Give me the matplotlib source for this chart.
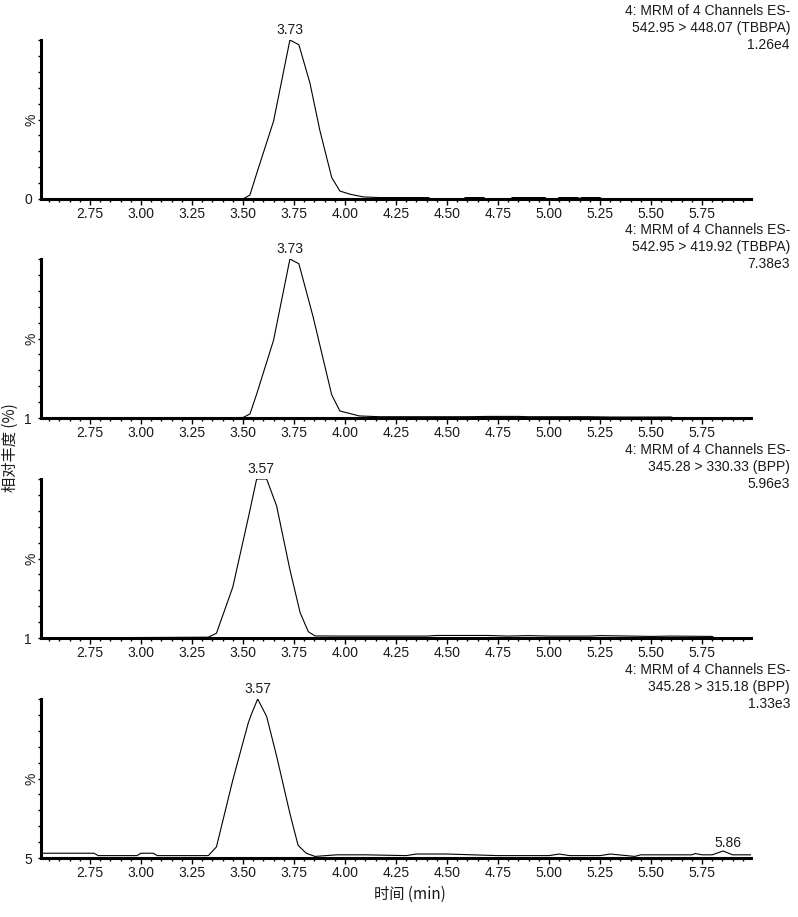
import matplotlib
matplotlib.use('Agg')
import matplotlib.pyplot as plt
import numpy as np

plt.rcParams['font.family'] = ['Liberation Sans', 'DejaVu Sans']

# retention time (min) / relative abundance (%)
t1 = [2.51, 3.50, 3.534, 3.567, 3.65, 3.73, 3.774, 3.828, 3.877, 3.935, 3.975, 4.025, 4.09, 4.17,
      4.41, 4.42, 4.58, 4.59, 4.68, 4.69, 4.81, 4.82, 4.98, 4.99, 5.04, 5.05, 5.14, 5.15, 5.16,
      5.25, 5.26, 5.99]
y1 = [0, 0, 2.5, 16, 49, 100, 97, 73, 43, 13.5, 5, 3, 1.3, 0.9,
      0.9, 0, 0, 0.9, 0.9, 0, 0, 0.9, 0.9, 0, 0, 0.9, 0.9, 0.3, 0.9,
      0.9, 0, 0]

t2 = [2.51, 3.50, 3.534, 3.567, 3.65, 3.73, 3.774, 3.843, 3.935, 3.975, 4.07, 4.17,
      4.60, 4.70, 4.85, 4.90, 5.20, 5.30, 5.60, 5.61, 5.99]
y2 = [0, 0.3, 2.5, 15, 49, 100, 97, 64, 14.5, 4.4, 1.3, 0.8,
      0.8, 1.0, 1.0, 0.8, 0.8, 0.6, 0.6, 0, 0]

t3 = [2.51, 3.33, 3.37, 3.45, 3.525, 3.567, 3.616, 3.665, 3.73, 3.78, 3.82, 3.853, 3.975,
      4.40, 4.45, 4.70, 4.80, 4.90, 5.00, 5.20, 5.25, 5.50, 5.60, 5.80, 5.81, 5.99]
y3 = [0, 0.5, 3, 32, 75, 100, 100, 83, 43, 16, 4, 1.3, 1.2,
      1.2, 1.6, 1.6, 1.2, 1.5, 1.2, 1.2, 1.5, 1.0, 1.2, 1.0, 0, 0]

t4 = [2.51, 2.77, 2.79, 2.98, 3.00, 3.06, 3.08, 3.33, 3.37, 3.45, 3.526, 3.543, 3.572, 3.616,
      3.665, 3.73, 3.77, 3.81, 3.853, 3.96, 4.10, 4.30, 4.35, 4.50, 4.75, 5.00, 5.05, 5.10,
      5.25, 5.30, 5.42, 5.45, 5.70, 5.716, 5.75, 5.80, 5.853, 5.90, 5.99]
y4 = [3, 3, 1.5, 1.5, 3, 3, 1.5, 1.5, 7, 49, 85, 91, 100, 89,
      64, 28, 8, 3, 1, 2, 2, 1.5, 2.5, 2.5, 1.5, 1.5, 2.5, 1.5,
      1.5, 2.5, 1.0, 2.0, 2.0, 2.8, 2.0, 2.0, 4.4, 2.0, 2.0]

times = [t1, t2, t3, t4]
signals = [y1, y2, y3, y4]
headers = [["4: MRM of 4 Channels ES-", "542.95 > 448.07 (TBBPA)", "1.26e4"],
           ["4: MRM of 4 Channels ES-", "542.95 > 419.92 (TBBPA)", "7.38e3"],
           ["4: MRM of 4 Channels ES-", "345.28 > 330.33 (BPP)", "5.96e3"],
           ["4: MRM of 4 Channels ES-", "345.28 > 315.18 (BPP)", "1.33e3"]]
peak_labels = [[("3.73", 3.73)], [("3.73", 3.73)], [("3.57", 3.59)], [("3.57", 3.572), ("5.86", 5.877)]]
bottom_labels = ["0", "1", "1", "5"]
xticks = [2.75, 3.00, 3.25, 3.50, 3.75, 4.00, 4.25, 4.50, 4.75, 5.00, 5.25, 5.50, 5.75]

W, H = 798, 917
fig = plt.figure(figsize=(W / 100, H / 100), dpi=100)
fig.patch.set_facecolor('white')

panel_tops = [40, 259, 479, 699]
panel_h = 159
left_px, right_px = 41, 751
txt = '#1a1a1a'

for i in range(4):
    top = panel_tops[i]
    ax = fig.add_axes([left_px / W, 1 - (top + panel_h) / H, (right_px - left_px) / W, panel_h / H])
    ax.plot(times[i], signals[i], color='black', linewidth=0.8)
    ax.set_xlim(2.51, 5.99)
    ax.set_ylim(0, 100)
    for s in ['top', 'right']:
        ax.spines[s].set_visible(False)
    for s in ['left', 'bottom']:
        ax.spines[s].set_linewidth(2.2)
    ax.set_xticks(xticks)
    ax.set_xticklabels(["%.2f" % v for v in xticks], fontsize=10, color=txt)
    ax.set_xticks(np.arange(2.55, 5.99, 0.05), minor=True)
    ax.tick_params(axis='x', which='major', direction='out', length=4.5, width=1, pad=1)
    ax.tick_params(axis='x', which='minor', direction='out', length=2.5, width=1)
    ax.set_yticks(np.arange(0, 101, 10))
    ax.set_yticklabels([bottom_labels[i]] + [''] * 10, fontsize=10, color=txt)
    ax.tick_params(axis='y', direction='out', length=2.5, width=1, pad=4)
    ax.text(-0.013, 0.5, '%', transform=ax.transAxes, rotation=90, ha='center', va='center',
            fontsize=10, color=txt)

    for j, line in enumerate(headers[i]):
        ax.annotate(line, xy=(1, 1), xycoords='axes fraction', xytext=(39, 29 - 17 * j),
                    textcoords='offset pixels', ha='right', va='center', fontsize=10, color=txt)

    for lab, xpos in peak_labels[i]:
        yv = np.interp(xpos, times[i], signals[i])
        ax.annotate(lab, xy=(xpos, yv), xytext=(0, 3), textcoords='offset pixels',
                    ha='center', va='bottom', fontsize=10, color=txt)

fig.text(10 / W, 1 - 448 / H, '相对丰度 (%)', rotation=90, ha='center', va='center',
         fontsize=11, color=txt, family=['Noto Sans CJK SC', 'DejaVu Sans'])
fig.text(410 / W, 1 - 894 / H, '时间 (min)', ha='center', va='center',
         fontsize=11, color=txt, family=['Noto Sans CJK SC', 'DejaVu Sans'])

fig.savefig('out.png', dpi=100, facecolor='white')
